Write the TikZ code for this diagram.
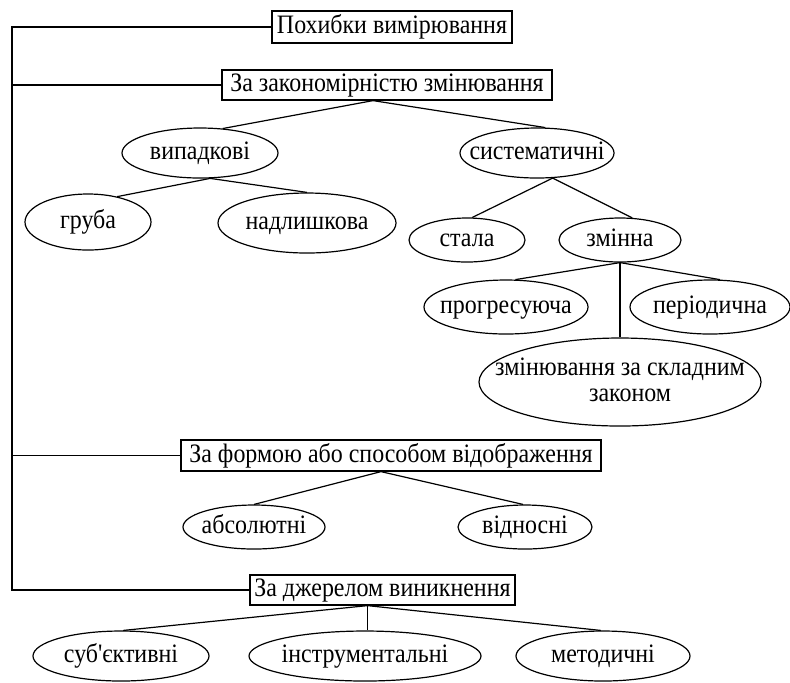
\documentclass[tikz,border=0pt]{standalone}
\usepackage{fontspec}
\setmainfont{Liberation Serif}[FakeStretch=0.9]
\usetikzlibrary{shapes.geometric}
\newcommand\ztxt[1]{\makebox[0pt]{#1}}
\newcommand\apos{{\addfontfeatures{Ligatures=TeXOff}'}}
\begin{document}
\begin{tikzpicture}[x=0.5pt,y=-0.5pt,font=\fontsize{13.3}{15}\selectfont,line width=0.6pt,
  box/.style={draw,rectangle,inner sep=0pt,text height=9.3pt,text depth=2.7pt},
  ell/.style={draw,ellipse,inner sep=0pt,text height=9.3pt,text depth=2.7pt},
  link/.style={line width=0.6pt}]
\useasboundingbox (0,0) rectangle (790,682);
% category boxes
\node[box,minimum width=120pt,minimum height=16pt] (b1) at (392,27) {Похибки вимірювання};
\node[box,minimum width=165pt,minimum height=15pt] (b2) at (387,85) {За закономірністю змінювання};
\node[box,minimum width=210pt,minimum height=15.5pt] (b3) at (391,455.5) {За формою або способом відображення};
\node[box,minimum width=132.5pt,minimum height=15pt] (b4) at (382.5,590) {За джерелом виникнення};
\coordinate (sp) at (12,0);
% ellipses
\node[ell,minimum width=78pt,minimum height=25pt] (vyp) at (200,153) {\ztxt{випадкові}};
\node[ell,minimum width=77pt,minimum height=25pt] (sys) at (537,153) {\ztxt{систематичні}};
\node[ell,minimum width=63pt,minimum height=28pt] (gru) at (88,222) {\ztxt{груба}};
\node[ell,minimum width=89pt,minimum height=30pt] (nad) at (307,223) {\ztxt{надлишкова}};
\node[ell,minimum width=58pt,minimum height=22pt] (sta) at (467,240) {\ztxt{стала}};
\node[ell,minimum width=61pt,minimum height=22pt] (zmi) at (620,240) {\ztxt{змінна}};
\node[ell,minimum width=82pt,minimum height=27pt] (pro) at (506,307) {\ztxt{прогресуюча}};
\node[ell,minimum width=80pt,minimum height=27pt] (per) at (710,307) {\ztxt{періодична}};
\node[draw,ellipse,inner sep=0pt,minimum width=141pt,minimum height=44pt] (skl) at (620,382) {\ztxt{\begin{tabular}{@{}c@{}}змінювання за складним\\[-2pt]\hspace*{10pt}законом\end{tabular}}};
\node[ell,minimum width=71pt,minimum height=22pt] (abs) at (254,527) {\ztxt{абсолютні}};
\node[ell,minimum width=67pt,minimum height=22pt] (vid) at (525,527) {\ztxt{відносні}};
\node[ell,minimum width=88pt,minimum height=25pt] (sub) at (121,656) {\ztxt{суб\apos єктивні}};
\node[ell,minimum width=116pt,minimum height=25pt] (ins) at (365,656) {\ztxt{інструментальні}};
\node[ell,minimum width=87pt,minimum height=25pt] (met) at (603,656) {\ztxt{методичні}};
% spine
\draw[link] (b1.west) -- (b1.west -| sp) -- (b4.west -| sp) -- (b4.west);
\draw[link] (b2.west) -- (b2.west -| sp);
\draw[link] (b3.west) -- (b3.west -| sp);
% connectors
\draw[link] (vyp.47) -- ([xshift=-7pt]b2.south) -- (sys.72);
\draw[link] (gru.41) -- (vyp.-68) -- (nad.north);
\draw[link] (sta.77) -- (sys.-58) -- (zmi.61);
\draw[link] (pro.71) -- (zmi.south) -- (per.70);
\draw[link] (zmi.south) -- (skl.north);
\draw[link] (abs.north) -- ([xshift=-5pt]b3.south) -- (vid.95);
\draw[link] (sub.85) -- ([xshift=-7.5pt]b4.south) -- (met.95);
\draw[link] ([xshift=-7.5pt]b4.south) -- ([xshift=-7.5pt]b4.south |- ins.north);
\end{tikzpicture}
\end{document}
